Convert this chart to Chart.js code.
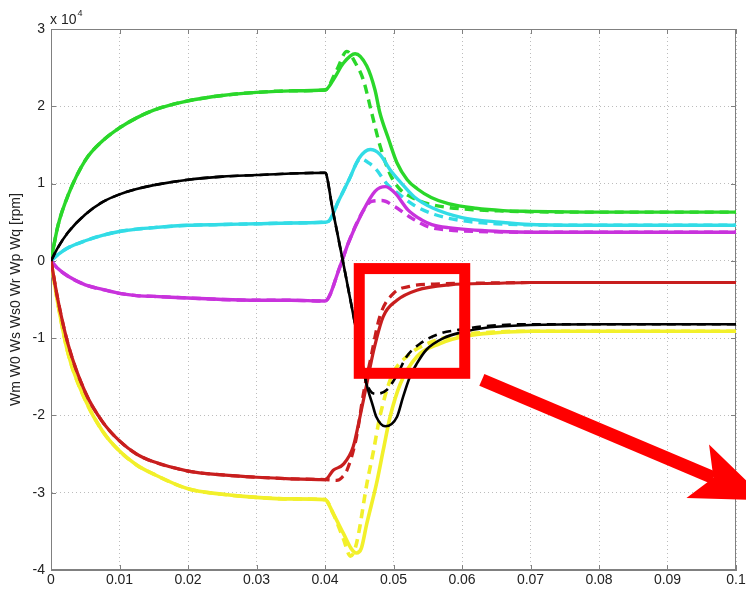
<!DOCTYPE html>
<html>
<head>
<meta charset="utf-8">
<script src="https://cdn.jsdelivr.net/npm/chart.js@4.4.1/dist/chart.umd.min.js"></script>
<style>
  html, body { margin: 0; padding: 0; background: #fff; overflow: hidden; }
  #wrap { width: 756px; height: 595px; }
</style>
</head>
<body>
<div id="wrap"><canvas id="chart" width="756" height="595"></canvas></div>
<script>
// speeds in units of 1e4 rpm, time in s

// start-up (0 .. 0.04 s), solid and dashed traces coincide here
const tRise = [0, 0.001, 0.0025, 0.005, 0.0075, 0.01, 0.0125, 0.015, 0.02, 0.025, 0.03, 0.035, 0.04];
const greenRise = [0, 0.45, 0.85, 1.3, 1.55, 1.72, 1.85, 1.95, 2.07, 2.14, 2.18, 2.2, 2.21];
const cyanRise = [0, 0.08, 0.17, 0.26, 0.33, 0.38, 0.41, 0.43, 0.46, 0.47, 0.48, 0.49, 0.5];
const magentaRise = [0, -0.1, -0.2, -0.31, -0.37, -0.42, -0.45, -0.46, -0.48, -0.5, -0.51, -0.51, -0.52];
const blackRise = [0, 0.17, 0.37, 0.6, 0.76, 0.86, 0.93, 0.98, 1.05, 1.09, 1.11, 1.13, 1.14];
const redRise = [0, -0.5, -1.08, -1.7, -2.08, -2.33, -2.5, -2.6, -2.72, -2.77, -2.8, -2.82, -2.83];
const yellowRise = [0, -0.55, -1.2, -1.8, -2.2, -2.46, -2.64, -2.76, -2.95, -3.02, -3.06, -3.08, -3.09];

// transient after 0.04 s (solid)
const tGreenS = [0.0412, 0.0427, 0.0444, 0.0461, 0.0473, 0.048, 0.0493, 0.0505, 0.052, 0.0535, 0.0555, 0.058, 0.062, 0.066, 0.07, 0.08, 0.1];
const greenS = [2.34, 2.56, 2.68, 2.52, 2.21, 1.92, 1.57, 1.27, 1.05, 0.93, 0.82, 0.74, 0.68, 0.65, 0.64, 0.63, 0.63];
const tCyanS = [0.0405, 0.042, 0.0435, 0.045, 0.0466, 0.048, 0.0495, 0.051, 0.053, 0.0558, 0.06, 0.0655, 0.07, 0.08, 0.1];
const cyanS = [0.51, 0.78, 1.05, 1.33, 1.44, 1.38, 1.18, 1.02, 0.83, 0.68, 0.56, 0.5, 0.47, 0.46, 0.46];
const tMagentaS = [0.0422, 0.0434, 0.0454, 0.0473, 0.0488, 0.0502, 0.0521, 0.0541, 0.0556, 0.058, 0.0655, 0.07, 0.08, 0.1];
const magentaS = [-0.07, 0.23, 0.62, 0.9, 0.96, 0.88, 0.66, 0.53, 0.47, 0.43, 0.38, 0.37, 0.37, 0.37];
const tBlackS = [0.0402, 0.041, 0.042, 0.043, 0.044, 0.045, 0.046, 0.047, 0.0475, 0.0488, 0.0505, 0.0514, 0.0524, 0.0534, 0.0548, 0.0573, 0.0597, 0.064, 0.07, 0.08, 0.1];
const blackS = [1.12, 0.72, 0.27, -0.18, -0.64, -1.1, -1.57, -1.88, -2.02, -2.14, -2.02, -1.76, -1.5, -1.33, -1.15, -1.0, -0.93, -0.86, -0.83, -0.82, -0.82];
const tRedS = [0.0412, 0.0427, 0.0441, 0.0451, 0.0461, 0.0471, 0.0485, 0.0505, 0.0534, 0.0582, 0.065, 0.07, 0.08, 0.1];
const redS = [-2.71, -2.63, -2.41, -2.02, -1.59, -1.16, -0.72, -0.51, -0.38, -0.31, -0.29, -0.28, -0.28, -0.28];
const tYellowS = [0.0412, 0.0427, 0.0438, 0.0446, 0.0453, 0.0461, 0.0475, 0.0485, 0.0495, 0.051, 0.0534, 0.0568, 0.0607, 0.065, 0.07, 0.08, 0.1];
const yellowS = [-3.27, -3.53, -3.72, -3.78, -3.72, -3.4, -2.89, -2.45, -2.02, -1.59, -1.24, -1.07, -0.97, -0.93, -0.91, -0.91, -0.91];

// transient after 0.04 s (dashed)
const tGreenD = [0.0417, 0.0432, 0.0445, 0.0456, 0.0468, 0.048, 0.0495, 0.051, 0.0525, 0.055, 0.058, 0.062, 0.066, 0.07, 0.08, 0.1];
const greenD = [2.47, 2.71, 2.55, 2.34, 1.92, 1.5, 1.12, 0.92, 0.83, 0.74, 0.69, 0.66, 0.645, 0.635, 0.63, 0.63];
const tCyanD = [0.0405, 0.042, 0.0435, 0.0452, 0.0465, 0.0475, 0.049, 0.051, 0.053, 0.056, 0.06, 0.065, 0.07, 0.08, 0.1];
const cyanD = [0.51, 0.78, 1.05, 1.32, 1.26, 1.18, 1.0, 0.85, 0.72, 0.6, 0.52, 0.48, 0.465, 0.46, 0.46];
const tMagentaD = [0.0422, 0.0434, 0.0454, 0.0468, 0.0483, 0.0502, 0.0527, 0.0551, 0.058, 0.065, 0.07, 0.08, 0.1];
const magentaD = [-0.07, 0.23, 0.62, 0.77, 0.78, 0.7, 0.55, 0.44, 0.4, 0.375, 0.37, 0.37, 0.37];
const tBlackD = [0.0402, 0.041, 0.042, 0.043, 0.044, 0.045, 0.0458, 0.0466, 0.0475, 0.049, 0.0505, 0.0519, 0.0539, 0.0568, 0.0597, 0.064, 0.07, 0.08, 0.1];
const blackD = [1.12, 0.72, 0.27, -0.18, -0.64, -1.1, -1.5, -1.68, -1.72, -1.67, -1.48, -1.24, -1.07, -0.94, -0.89, -0.84, -0.82, -0.82, -0.82];
const tRedD = [0.0417, 0.0425, 0.0432, 0.0446, 0.0456, 0.0466, 0.048, 0.05, 0.0524, 0.056, 0.065, 0.07, 0.08, 0.1];
const redD = [-2.84, -2.8, -2.71, -2.28, -1.72, -1.29, -0.72, -0.42, -0.33, -0.3, -0.285, -0.28, -0.28, -0.28];
const tYellowD = [0.0412, 0.0427, 0.0437, 0.0443, 0.0449, 0.0461, 0.0471, 0.048, 0.0497, 0.0519, 0.0558, 0.0597, 0.065, 0.07, 0.08, 0.1];
const yellowD = [-3.27, -3.6, -3.82, -3.75, -3.53, -2.89, -2.45, -2.02, -1.5, -1.24, -1.04, -0.96, -0.92, -0.91, -0.91, -0.91];

// red highlight box and arrow (data coordinates)
const boxX = [0.045, 0.0604];
const boxY = [-0.1, -1.455];
const arrowX = [0.0629, 0.1045];
const arrowY = [-1.54, -3.1];

const FONT = '"Liberation Sans", Arial, sans-serif';
const RED = "#ff0000";

function series(tr, wr) {
  return tr.map((t, i) => ({ x: t, y: wr[i] }));
}
function trace(rise, t, w) {
  return series(tRise.concat(t), rise.concat(w));
}

function line(data, color, width, dashed) {
  return {
    data,
    borderColor: color,
    borderWidth: width,
    borderDash: dashed ? [9, 6] : [],
    pointRadius: 0,
    fill: false,
    cubicInterpolationMode: "monotone"
  };
}

const datasets = [
  line(trace(blackRise, tBlackS, blackS), "#000000", 2.6, false),
  line(trace(blackRise, tBlackD, blackD), "#000000", 2.6, true),
  line(trace(redRise, tRedS, redS), "#c81e1e", 3.2, false),
  line(trace(redRise, tRedD, redD), "#c81e1e", 3.2, true),
  line(trace(magentaRise, tMagentaS, magentaS), "#c832dc", 3.4, false),
  line(trace(magentaRise, tMagentaD, magentaD), "#c832dc", 3.4, true),
  line(trace(cyanRise, tCyanS, cyanS), "#32dce6", 3.4, false),
  line(trace(cyanRise, tCyanD, cyanD), "#32dce6", 3.4, true),
  line(trace(greenRise, tGreenS, greenS), "#2ad72a", 3.4, false),
  line(trace(greenRise, tGreenD, greenD), "#2ad72a", 3.4, true),
  line(trace(yellowRise, tYellowS, yellowS), "#f2f02a", 3.6, false),
  line(trace(yellowRise, tYellowD, yellowD), "#f2f02a", 3.6, true)
];

// matlab-like box with inward ticks
const frame = {
  id: "frame",
  beforeDatasetsDraw(chart) {
    const { ctx, chartArea: a, scales: { x, y } } = chart;
    ctx.save();
    ctx.strokeStyle = "#808080";
    ctx.lineWidth = 1;
    ctx.strokeRect(a.left + 0.5, a.top + 0.5, a.right - a.left - 1, a.bottom - a.top - 1);
    ctx.beginPath();
    x.ticks.forEach(t => {
      const px = Math.round(x.getPixelForValue(t.value)) + 0.5;
      ctx.moveTo(px, a.bottom); ctx.lineTo(px, a.bottom - 5);
      ctx.moveTo(px, a.top); ctx.lineTo(px, a.top + 5);
    });
    y.ticks.forEach(t => {
      const py = Math.round(y.getPixelForValue(t.value)) + 0.5;
      ctx.moveTo(a.left, py); ctx.lineTo(a.left + 5, py);
      ctx.moveTo(a.right, py); ctx.lineTo(a.right - 5, py);
    });
    ctx.stroke();
    ctx.restore();
  },
  afterDraw(chart) {
    const { ctx, chartArea: a, scales: { x, y } } = chart;
    ctx.save();
    // exponent label
    ctx.fillStyle = "#222";
    ctx.textBaseline = "alphabetic";
    ctx.font = "14px " + FONT;
    ctx.fillText("x 10", a.left - 1, a.top - 5);
    const w = ctx.measureText("x 10").width;
    ctx.font = "9px " + FONT;
    ctx.fillText("4", a.left + w, a.top - 13);

    // highlight box
    ctx.strokeStyle = RED;
    ctx.lineWidth = 11;
    ctx.lineJoin = "miter";
    const bx0 = x.getPixelForValue(boxX[0]), bx1 = x.getPixelForValue(boxX[1]);
    const by0 = y.getPixelForValue(boxY[0]), by1 = y.getPixelForValue(boxY[1]);
    ctx.strokeRect(bx0, by0, bx1 - bx0, by1 - by0);

    // arrow
    const x0 = x.getPixelForValue(arrowX[0]), y0 = y.getPixelForValue(arrowY[0]);
    const x1 = x.getPixelForValue(arrowX[1]), y1 = y.getPixelForValue(arrowY[1]);
    const ang = Math.atan2(y1 - y0, x1 - x0);
    const c = Math.cos(ang), s = Math.sin(ang);
    const headLen = 75, headHalf = 29, notch = 58;
    ctx.lineWidth = 13;
    ctx.lineCap = "butt";
    ctx.beginPath();
    ctx.moveTo(x0, y0);
    ctx.lineTo(x1 - notch * c, y1 - notch * s);
    ctx.stroke();
    ctx.fillStyle = RED;
    ctx.beginPath();
    ctx.moveTo(x1, y1);
    ctx.lineTo(x1 - headLen * c - headHalf * s, y1 - headLen * s + headHalf * c);
    ctx.lineTo(x1 - notch * c, y1 - notch * s);
    ctx.lineTo(x1 - headLen * c + headHalf * s, y1 - headLen * s - headHalf * c);
    ctx.closePath();
    ctx.fill();
    ctx.restore();
  }
};

new Chart(document.getElementById("chart"), {
  type: "line",
  data: { datasets },
  options: {
    responsive: false,
    animation: false,
    devicePixelRatio: 1,
    layout: { padding: { top: 29, right: 20, left: 0, bottom: 0 } },
    plugins: { legend: { display: false }, tooltip: { enabled: false } },
    scales: {
      x: {
        type: "linear",
        min: 0,
        max: 0.1,
        afterFit: s => { s.height = 25; },
        ticks: {
          stepSize: 0.01,
          autoSkip: false,
          maxRotation: 0,
          padding: 2,
          color: "#222",
          font: { family: FONT, size: 14 },
          callback: v => String(Number(v.toFixed(2)))
        },
        grid: { color: "#bcbcbc", lineWidth: 1, drawTicks: false },
        border: { color: "#808080", dash: [1, 3] }
      },
      y: {
        min: -4,
        max: 3,
        afterFit: s => { s.width = 51; },
        ticks: {
          stepSize: 1,
          padding: 6,
          color: "#222",
          font: { family: FONT, size: 14 }
        },
        grid: { color: "#bcbcbc", lineWidth: 1, drawTicks: false },
        border: { color: "#808080", dash: [1, 3] },
        title: {
          display: true,
          text: "Wm W0 Ws Ws0 Wr Wp Wq [rpm]",
          color: "#222",
          font: { family: FONT, size: 14 },
          padding: { top: 8, bottom: 0 }
        }
      }
    }
  },
  plugins: [frame]
});
</script>
</body>
</html>
